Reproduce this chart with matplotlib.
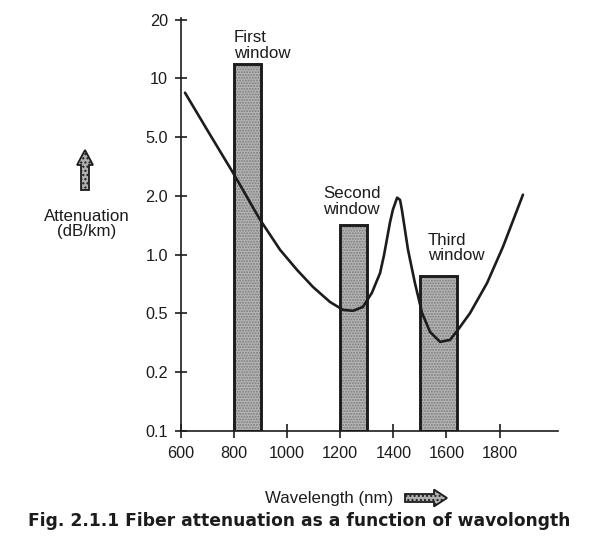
import matplotlib
matplotlib.use("Agg")
import matplotlib.pyplot as plt
import numpy as np
from matplotlib.patches import FancyArrow

plt.rcParams["font.family"] = ["Liberation Sans", "DejaVu Sans"]

# attenuation curve: wavelength (nm) and loss (dB/km)
curve_nm = [615, 705, 796, 898, 973, 1037, 1097, 1161, 1210, 1248, 1285, 1319, 1350,
            1365, 1387, 1398, 1414, 1425, 1432, 1455, 1481, 1508, 1538, 1576, 1613,
            1643, 1689, 1753, 1813, 1888]
curve_db = [8.45, 5.27, 2.87, 1.51, 1.06, 0.836, 0.684, 0.573, 0.522, 0.516, 0.540, 0.638, 0.807,
            1.0, 1.46, 1.70, 1.96, 1.91, 1.70, 1.06, 0.717, 0.503, 0.375, 0.321, 0.331,
            0.387, 0.503, 0.717, 1.10, 2.04]

window_names = ["First\nwindow", "Second\nwindow", "Third\nwindow"]
window_start = [800, 1200, 1500]
window_end = [900, 1300, 1640]
window_top = [11.8, 1.42, 0.78]

ytick_vals = [0.1, 0.2, 0.5, 1.0, 2.0, 5.0, 10, 20]
ytick_labels = ["0.1", "0.2", "0.5", "1.0", "2.0", "5.0", "10", "20"]
xtick_vals = [600, 800, 1000, 1200, 1400, 1600, 1800]

INK = "#1c1c1c"

# the printed axis puts its labels at equal steps, so map log(value) -> step index
lv = np.log10(ytick_vals)
steps = np.arange(len(lv), dtype=float)
ext_lv = np.r_[lv[0] - 1, lv, lv[-1] + 1]
ext_steps = np.r_[-1 / (lv[1] - lv[0]), steps, steps[-1] + 1 / (lv[-1] - lv[-2])]


def forward(v):
    return np.interp(np.log10(np.clip(v, 1e-6, None)), ext_lv, ext_steps)


def inverse(s):
    return 10 ** np.interp(s, ext_steps, ext_lv)


fig = plt.figure(figsize=(6.02, 5.43), dpi=100)
ax = fig.add_axes([181 / 602, 112 / 543, 377 / 602, 413 / 543])
ax.set_yscale("function", functions=(forward, inverse))
ax.set_xlim(600, 2020)
ax.set_ylim(0.1, 20.4)

widths = [e - s for s, e in zip(window_start, window_end)]
heights = [t - 0.1 for t in window_top]
ax.bar(window_start, heights, width=widths, bottom=0.1, align="edge",
       color="#b6b6b6", edgecolor="#7c7c7c", hatch="......", linewidth=0, zorder=2)
ax.bar(window_start, heights, width=widths, bottom=0.1, align="edge",
       fill=False, edgecolor=INK, linewidth=2.1, zorder=3)

ax.plot(curve_nm, curve_db, color=INK, linewidth=1.9, zorder=4,
        solid_joinstyle="round", solid_capstyle="round")

label_x = [800, 1135, 1530]
label_gap = [2.5, 6, 9]
for name, x, top, gap in zip(window_names, label_x, window_top, label_gap):
    ax.annotate(name, xy=(x, top), xytext=(0, gap), textcoords="offset points",
                ha="left", va="bottom", fontsize=12.2, color=INK, linespacing=1.05)

for side in ["top", "right"]:
    ax.spines[side].set_visible(False)
for side in ["left", "bottom"]:
    ax.spines[side].set_linewidth(1.2)
    ax.spines[side].set_color(INK)

ax.set_yticks(ytick_vals)
ax.set_yticklabels(ytick_labels)
ax.yaxis.set_minor_locator(matplotlib.ticker.NullLocator())
ax.set_xticks(xtick_vals)
ax.set_xticklabels([str(v) for v in xtick_vals])
ax.tick_params(axis="y", direction="inout", length=9, width=1.2, pad=5,
               labelsize=11.7, colors=INK)
ax.tick_params(axis="x", direction="inout", length=10, width=1.2, pad=6,
               labelsize=11.7, colors=INK)

fig.text(87 / 602, 1 - 224 / 543, "Attenuation\n(dB/km)", ha="center", va="center",
         fontsize=12.2, color=INK, linespacing=1.05)
fig.text(329 / 602, 1 - 498 / 543, "Wavelength (nm)", ha="center", va="center",
         fontsize=12.2, color=INK)
fig.text(299 / 602, 1 - 521 / 543, "Fig. 2.1.1 Fiber attenuation as a function of wavolongth",
         ha="center", va="center", fontsize=12.3, fontweight="bold", color=INK,
         family="DejaVu Sans")

# fat stippled arrows next to the axis titles (inches on the figure)
up = FancyArrow(0.85, (543 - 190) / 100, 0, 0.40, width=0.08, head_width=0.16,
                head_length=0.15, length_includes_head=True, transform=fig.dpi_scale_trans,
                facecolor="#b0b0b0", edgecolor=INK, linewidth=1.3, hatch="....")
right = FancyArrow(4.05, (543 - 498) / 100, 0.42, 0, width=0.08, head_width=0.17,
                   head_length=0.13, length_includes_head=True, transform=fig.dpi_scale_trans,
                   facecolor="#b0b0b0", edgecolor=INK, linewidth=1.3, hatch="....")
fig.add_artist(up)
fig.add_artist(right)

fig.savefig("out.png", dpi=100)
